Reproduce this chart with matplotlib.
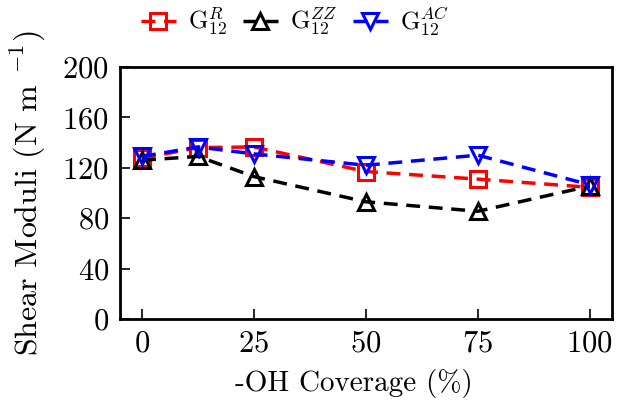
import matplotlib
matplotlib.use('Agg')
import matplotlib.pyplot as plt

plt.rcParams['font.family'] = 'serif'
plt.rcParams['font.serif'] = ['cmr10']
plt.rcParams['mathtext.fontset'] = 'cm'
plt.rcParams['axes.formatter.use_mathtext'] = True

coverage = [0, 12.5, 25, 50, 75, 100]
g_r = [127.5, 136, 136.5, 117, 111, 104.5]
g_zz = [126, 129, 113, 93, 85.5, 105.5]
g_ac = [129, 136.5, 131, 122, 130, 106.5]

fig = plt.figure(figsize=(6.19, 4.08), dpi=100)
ax = fig.add_axes([0.194, 0.218, 0.795, 0.618])

kw = dict(ls='--', lw=2.5, ms=12, mfc='none', mew=2.2, dashes=(4, 2.5))
ax.plot(coverage, g_r, color='red', marker='s', label=r'G$_{12}^{R}$', **kw)
ax.plot(coverage, g_zz, color='black', marker='^', label=r'G$_{12}^{ZZ}$', **kw)
ax.plot(coverage, g_ac, color='blue', marker='v', label=r'G$_{12}^{AC}$', **kw)

ax.set_xlim(-4.9, 105)
ax.set_ylim(0, 200)
ax.set_xticks([0, 25, 50, 75, 100])
ax.set_yticks([0, 40, 80, 120, 160, 200])
ax.tick_params(direction='in', length=7, width=1.2, labelsize=22, top=False, right=False, pad=8)
for s in ax.spines.values():
    s.set_linewidth(2)

ax.set_xlabel('-OH Coverage (%)', fontsize=21, labelpad=5)
ax.xaxis.set_label_coords(0.475, -0.2)
ax.set_ylabel(r'Shear Moduli (N m $^{-1}$)', fontsize=23, labelpad=10)

# legend sits above the axes, shifted left
fig.legend(*ax.get_legend_handles_labels(), loc='center', bbox_to_anchor=(295 / 619, 0.946),
           ncol=3, frameon=False, fontsize=18, handlelength=1.4, handletextpad=0.5,
           columnspacing=0.6, borderpad=0.1)

plt.savefig('out.png', dpi=100)
